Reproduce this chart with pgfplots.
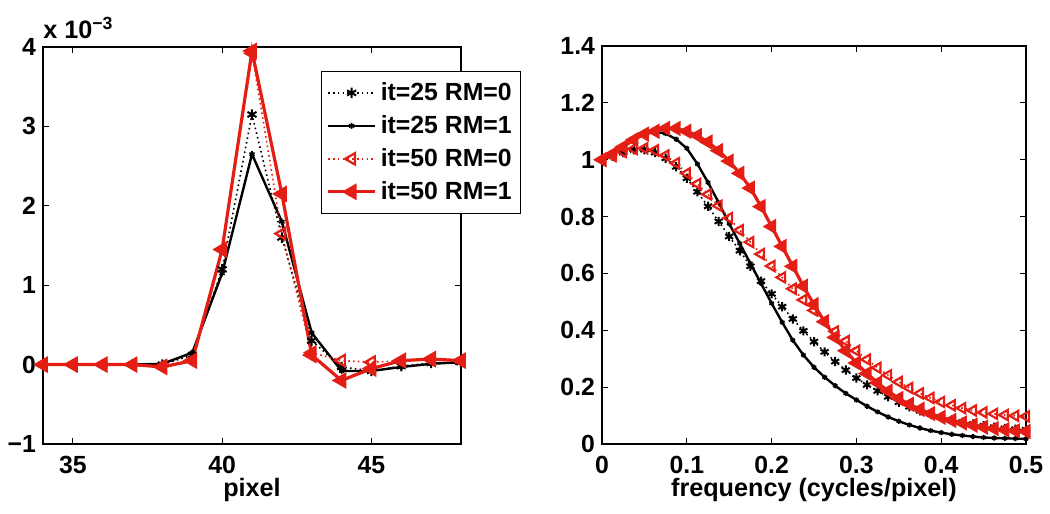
\documentclass[border=0pt]{standalone}
\usepackage{fontspec}
\setmainfont{Liberation Sans}
\usepackage{pgfplots}
\pgfplotsset{compat=1.18}
\usepackage{pgfplotstable}
\definecolor{mred}{RGB}{228,30,20}

\pgfplotstableread{
x a b c d
34 0 0 0 0
35 0 0 0 0
36 0 0 0 0
37 0 0 0 0
38 0 0.01 -0.02 -0.03
39 0.12 0.15 0.05 0.05
40 1.2 1.15 1.45 1.45
41 3.15 2.65 3.92 3.95
42 1.6 1.8 1.65 2.15
43 0.3 0.4 0.15 0.12
44 -0.03 -0.08 0.05 -0.2
45 -0.08 -0.08 0.03 -0.05
46 -0.02 -0.03 0.05 0.05
47 0.02 0.01 0.06 0.07
48 0.03 0.03 0.05 0.05
}\pix

\pgfplotstableread{
f a b c d
0      1.000 1.000 1.000 1.000
0.0125 1.012 1.022 1.013 1.020
0.025  1.025 1.048 1.027 1.045
0.0375 1.035 1.072 1.038 1.070
0.05   1.035 1.090 1.040 1.090
0.0625 1.025 1.098 1.033 1.100
0.075  1.005 1.092 1.015 1.110
0.0875 0.975 1.072 0.988 1.110
0.1    0.935 1.040 0.952 1.100
0.1125 0.887 0.985 0.915 1.085
0.125  0.836 0.920 0.878 1.062
0.1375 0.783 0.850 0.838 1.032
0.15   0.730 0.775 0.795 0.995
0.1625 0.680 0.705 0.752 0.952
0.175  0.625 0.635 0.710 0.900
0.1875 0.573 0.565 0.668 0.835
0.2    0.528 0.495 0.626 0.765
0.2125 0.483 0.428 0.586 0.695
0.225  0.440 0.365 0.546 0.625
0.2375 0.398 0.313 0.507 0.555
0.25   0.360 0.270 0.470 0.490
0.2625 0.324 0.235 0.432 0.430
0.275  0.290 0.205 0.396 0.375
0.2875 0.260 0.178 0.362 0.328
0.3    0.232 0.155 0.328 0.285
0.3125 0.208 0.133 0.297 0.248
0.325  0.187 0.113 0.268 0.215
0.3375 0.166 0.095 0.242 0.186
0.35   0.147 0.080 0.218 0.160
0.3625 0.131 0.067 0.197 0.140
0.375  0.117 0.056 0.178 0.122
0.3875 0.105 0.047 0.162 0.107
0.4    0.094 0.040 0.148 0.094
0.4125 0.085 0.034 0.136 0.083
0.425  0.077 0.030 0.126 0.074
0.4375 0.070 0.026 0.118 0.066
0.45   0.064 0.023 0.111 0.059
0.4625 0.059 0.021 0.106 0.054
0.475  0.055 0.020 0.102 0.050
0.4875 0.052 0.019 0.099 0.046
0.5    0.050 0.018 0.097 0.044
}\mtf

\begin{document}
\begin{tikzpicture}[font=\bfseries\fontsize{12.6}{15}\selectfont]
\path[use as bounding box] (0,0) rectangle (525pt,257pt);
\pgfplotsset{
  every axis/.append style={
    scale only axis, anchor=south west,
    axis line style={black, line width=0.6pt},
    tick style={black, line width=0.5pt},
    major tick length=3pt, tick align=inside, clip=false,
    tick label style={font=\bfseries\fontsize{12.4}{14}\selectfont},
    /pgf/number format/assume math mode=true,
    xticklabel style={yshift=-2.5pt},
    xlabel style={at={(axis description cs:0.5,0)}, anchor=base, yshift=-26.5pt},
  },
  legend image code/.code={\draw[mark repeat=2,mark phase=2] plot coordinates {(0pt,0pt)(11.75pt,0pt)(23.5pt,0pt)};},
  sA/.style={black, line width=0.8pt, dash pattern=on 0.8pt off 1.6pt, mark=asterisk, mark size=2.2pt, mark options={solid, line width=1pt}},
  sB/.style={black, line width=1.2pt, mark=asterisk, mark size=1.3pt, mark options={solid, line width=0.8pt}},
  sC/.style={mred, line width=0.8pt, dash pattern=on 0.8pt off 1.6pt, mark=triangle, mark options={solid, rotate=90, line width=1.1pt}},
  sD/.style={mred, line width=1.6pt, mark=triangle*, mark options={solid, rotate=90}},
}
\begin{axis}[at={(21.5pt,35pt)}, width=209pt, height=198.5pt,
  xmin=34, xmax=48, ymin=-1, ymax=4,
  xtick={35,40,45}, ytick={-1,0,1,2,3,4},
  yticklabels={−1,0,1,2,3,4},
  xlabel={pixel},
  legend style={at={(0.665,0.94)}, anchor=north west, draw=black, line width=0.6pt, fill=white,
    font=\bfseries\fontsize{12.4}{14.6}\selectfont, row sep=2pt, inner xsep=2.5pt, inner ysep=3.5pt},
  legend cell align=left,
]
\addplot[sA, mark size=2.6pt] table[x=x,y=a] {\pix};
\addplot[sB, mark size=1.5pt] table[x=x,y=b] {\pix};
\addplot[sC, mark size=3.3pt] table[x=x,y=c] {\pix};
\addplot[sD, mark size=3.3pt] table[x=x,y=d] {\pix};
\legend{it=25 RM=0, it=25 RM=1, it=50 RM=0, it=50 RM=1}
\node[anchor=base west, inner sep=0pt] at (rel axis cs:0,1) [yshift=4.5pt] {x 10\textsuperscript{−3}};
\end{axis}
\begin{axis}[at={(301pt,35pt)}, width=212pt, height=199pt,
  xmin=0, xmax=0.5, ymin=0, ymax=1.4,
  xtick={0,0.1,0.2,0.3,0.4,0.5}, ytick={0,0.2,0.4,0.6,0.8,1,1.2,1.4},
  xticklabel style={/pgf/number format/fixed},
  yticklabel style={/pgf/number format/fixed},
  xlabel={frequency (cycles/pixel)},
]
\addplot[sA, mark size=2.3pt] table[x=f,y=a] {\mtf};
\addplot[sB, mark size=1.3pt] table[x=f,y=b] {\mtf};
\addplot[sC, mark size=2.9pt] table[x=f,y=c] {\mtf};
\addplot[sD, mark size=2.9pt] table[x=f,y=d] {\mtf};
\end{axis}
\end{tikzpicture}
\end{document}
